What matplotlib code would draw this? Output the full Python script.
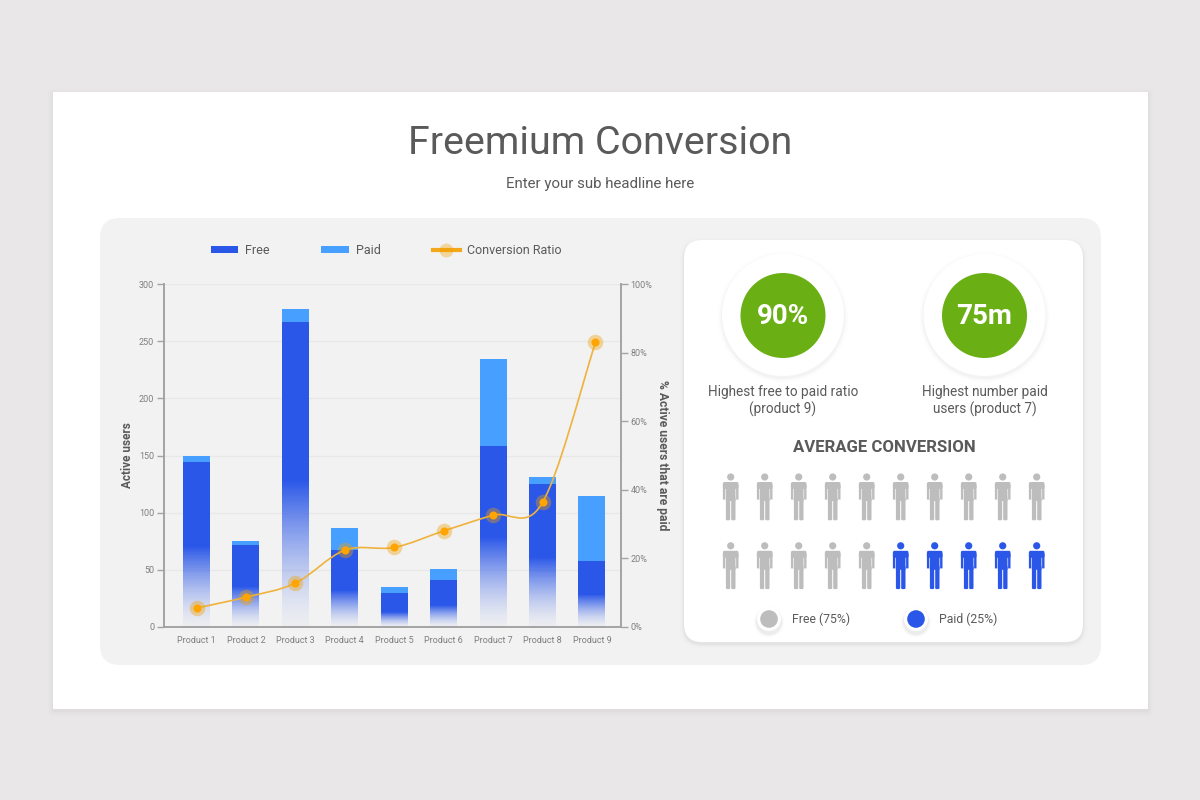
import numpy as np
import matplotlib
matplotlib.use("Agg")
import matplotlib.pyplot as plt
from matplotlib.patches import FancyBboxPatch, Circle, Patch, PathPatch, Rectangle
from matplotlib.path import Path
from matplotlib.lines import Line2D
from matplotlib.legend_handler import HandlerTuple

plt.rcParams['font.family'] = ['Roboto', 'DejaVu Sans']

# ---------- data ----------
products = ["Product 1", "Product 2", "Product 3", "Product 4", "Product 5",
            "Product 6", "Product 7", "Product 8", "Product 9"]
free_users = [144, 72, 267, 67, 30, 41, 158, 125, 58]
paid_users = [6, 3, 11, 20, 5, 10, 76, 6, 57]
fade_start = [70, 35, 128, 32, 13, 19, 78, 61, 28]
conversion = [5.5, 8.7, 12.8, 22.4, 23.2, 28.0, 32.6, 36.3, 83.0]
left_ticks = [0, 50, 100, 150, 200, 250, 300]
right_ticks = [0, 20, 40, 60, 80, 100]
free_people = 15
paid_people = 5

# ---------- colours ----------
TXT = "#5a5a5a"
TICK = "#7f7f7f"
FREE = "#2a57e8"
PAID = "#47a0ff"
ORANGE = "#ffa400"
LINE = "#efb23c"
GREEN = "#6ab014"
GREY = "#bdbdbd"
GRID = "#e8e8e8"
SPINE = "#a3a3a3"

fig = plt.figure(figsize=(12, 8), dpi=100, facecolor="#e9e7e8")
bg = fig.add_axes([0, 0, 1, 1], zorder=0)
bg.set_xlim(0, 1200)
bg.set_ylim(800, 0)
bg.axis("off")


def rbox(x0, y0, x1, y1, r, color, zorder=1):
    p = FancyBboxPatch((x0 + r, y0 + r), x1 - x0 - 2 * r, y1 - y0 - 2 * r,
                       boxstyle=f"round,pad={r},rounding_size={r}",
                       fc=color, ec="none", zorder=zorder)
    bg.add_patch(p)
    return p


def box_shadow(x0, y0, x1, y1, r, spread, dy, alpha, zorder):
    for k in range(spread, 0, -1):
        rbox(x0 - k, y0 - k + dy, x1 + k, y1 + k + dy, r + k,
             (0, 0, 0, alpha * (1 - k / (spread + 1)) ** 2), zorder)


def circ(cx, cy, r, color, zorder=5):
    bg.add_patch(Circle((cx, cy), r, fc=color, ec="none", zorder=zorder))


def circ_shadow(cx, cy, r, spread, dy, alpha, zorder=4):
    for k in range(spread, 0, -1):
        circ(cx, cy + dy, r + k, (0, 0, 0, alpha * (1 - k / (spread + 1)) ** 2), zorder)


# slide and panels
box_shadow(53, 92, 1148, 709, 1, 10, 2, 0.012, 1)
rbox(53, 92, 1148, 709, 0.5, "white", 2)
rbox(100, 218, 1101, 665, 20, "#f2f2f2", 3)
box_shadow(684, 240, 1083, 642, 18, 6, 2, 0.03, 3)
rbox(684, 240, 1083, 642, 18, "white", 4)

# headline
bg.text(600, 144, "Freemium Conversion", ha="center", va="center",
        fontsize=28.4, color=TXT, zorder=6)
bg.text(600, 184, "Enter your sub headline here", ha="center", va="center",
        fontsize=10.8, color=TXT, zorder=6)

# KPI circles
for cx, big, lbl1, lbl2 in [(783, "90%", "Highest free to paid ratio", "(product 9)"),
                            (984.5, "75m", "Highest number paid", "users (product 7)")]:
    circ_shadow(cx, 315, 61, 6, 2, 0.025)
    circ(cx, 315, 61, "white", 5)
    circ(cx, 315.5, 42.5, GREEN, 6)
    bg.text(cx, 317, big, ha="center", va="center", fontsize=20,
            fontweight="bold", color="white", zorder=7)
    bg.text(cx, 392, lbl1, ha="center", va="center", fontsize=9.8, color=TXT, zorder=7)
    bg.text(cx, 409, lbl2, ha="center", va="center", fontsize=9.8, color=TXT, zorder=7)

bg.text(884, 447, "AVERAGE CONVERSION", ha="center", va="center", fontsize=12.1,
        fontweight="bold", color=TXT, zorder=7)


# pictogram
def person(cx, head_y, color):
    z = 6
    circ(cx, head_y, 3.6, color, z)
    rbox(cx - 7.8, head_y + 5, cx + 7.8, head_y + 12, 1.6, color, z).set_snap(False)
    for rx, rw, ry, rh in [(-7.8, 2.4, 8, 14.6), (5.4, 2.4, 8, 14.6), (-4.8, 9.6, 8, 16)]:
        bg.add_patch(Rectangle((cx + rx, head_y + ry), rw, rh, fc=color, ec="none",
                               zorder=z, snap=False))
    rbox(cx - 4.8, head_y + 20, cx - 0.5, head_y + 43.3, 1.2, color, z).set_snap(False)
    rbox(cx + 0.5, head_y + 20, cx + 4.8, head_y + 43.3, 1.2, color, z).set_snap(False)


total = free_people + paid_people
for n in range(total):
    row, col = divmod(n, 10)
    cx = 730.7 + 34 * col
    person(cx, 477 + 68.8 * row, GREY if n < free_people else FREE)

for cx, col, lbl in [(769, GREY, "Free (75%)"), (916, FREE, "Paid (25%)")]:
    circ_shadow(cx, 620, 12, 5, 2, 0.05)
    circ(cx, 619, 12, "white", 5)
    circ(cx, 619, 8.8, col, 6)
    bg.text(cx + 23, 619.5, lbl, ha="left", va="center", fontsize=8.8, color=TXT, zorder=7)

# ---------- chart ----------
ax = fig.add_axes([164 / 1200, 173 / 800, 457 / 1200, 343 / 800], zorder=2)
ax.patch.set_alpha(0)
x = np.arange(len(products))
bar_w = 27 / 49.43
rgb = matplotlib.colors.to_rgb(FREE)

ax.yaxis.grid(True, color=GRID, lw=1)
ax.set_axisbelow(True)
fs = np.array(fade_start, float)
fr = np.array(free_users, float)
pd_ = np.array(paid_users, float)
ax.bar(x, fr - fs, bottom=fs, width=bar_w, color=FREE, zorder=2)
ax.bar(x, pd_, bottom=fr, width=bar_w, color=PAID, zorder=2)

# fading lower part of each free bar
f = np.linspace(1, 0, 128)[:, None]
grad = np.zeros((128, 1, 4))
grad[..., :3] = rgb
grad[..., 3] = 0.03 + 0.97 * f ** 1.5
for xi, top in zip(x, fs):
    im = ax.imshow(grad, extent=(xi - bar_w / 2, xi + bar_w / 2, 0, top), aspect="auto",
                   zorder=2, interpolation="nearest")
    im.set_clip_path(Rectangle((xi - bar_w / 2, 0), bar_w, top, transform=ax.transData))

ax.set_xlim(-32.5 / 49.43, 424.5 / 49.43)
ax.set_ylim(0, 300)
ax.set_xticks(x, products)
ax.set_yticks(left_ticks)
ax.tick_params(axis="x", length=0, labelsize=6.5, labelcolor=TICK, pad=6.5)
ax.tick_params(axis="y", length=5, width=1, color=SPINE, labelsize=6.5, labelcolor=TICK, pad=2)
for s in ("top", "right"):
    ax.spines[s].set_visible(False)
for s in ("left", "bottom"):
    ax.spines[s].set_color(SPINE)
    ax.spines[s].set_linewidth(1.4)
ax.set_ylabel("Active users", fontsize=8.5, fontweight="bold", color=TXT, labelpad=3.5)

ax2 = ax.twinx()
ax2.patch.set_alpha(0)
ax2.set_ylim(0, 100)
ax2.set_yticks(right_ticks, [f"{t}%" for t in right_ticks])
ax2.tick_params(axis="y", length=5, width=1, color=SPINE, labelsize=6.5, labelcolor=TICK, pad=2)
for s in ("top", "left", "bottom"):
    ax2.spines[s].set_visible(False)
ax2.spines["right"].set_color(SPINE)
ax2.spines["right"].set_linewidth(1.4)
ax2.set_ylabel("% Active users that are paid", fontsize=8.7, fontweight="bold",
               color=TXT, rotation=270, labelpad=12)

# smooth conversion line (cubic through the data points)
y = np.array(conversion)
lx = x.astype(float)
lx[-1] += 0.07  # the reference's last marker sits slightly right of its bar
verts = [(lx[0], y[0])]
codes = [Path.MOVETO]
for i in range(len(lx) - 1):
    m0 = (y[i + 1] - y[max(i - 1, 0)]) / (1 if i == 0 else 2)
    m1 = (y[min(i + 2, len(lx) - 1)] - y[i]) / (1 if i + 2 > len(lx) - 1 else 2)
    verts += [(lx[i] + 1 / 3, y[i] + m0 / 3), (lx[i + 1] - 1 / 3, y[i + 1] - m1 / 3), (lx[i + 1], y[i + 1])]
    codes += [Path.CURVE4] * 3
ax2.add_patch(PathPatch(Path(verts, codes), fc="none", ec=LINE, lw=1.2, zorder=4))
ax2.scatter(lx, y, s=125, color="#f0a000", alpha=0.38, linewidths=0, zorder=5)
ax2.scatter(lx, y, s=34, color=ORANGE, linewidths=0, zorder=6)

# legend
h_line = Line2D([], [], color="#f3a71a", lw=3)
h_halo = Line2D([], [], color="none", marker="o", ms=10, mfc="#f0a000", mec="none", alpha=0.35)
leg = fig.legend([Patch(fc=FREE), Patch(fc=PAID), (h_line, h_halo)],
                 ["Free", "Paid", "Conversion Ratio"],
                 handler_map={tuple: HandlerTuple(ndivide=1, pad=0)},
                 loc="center", bbox_to_anchor=(386 / 1200, 1 - 250.5 / 800), ncol=3,
                 frameon=False, fontsize=9.0, handlelength=2.2, handleheight=0.55,
                 handletextpad=0.55, columnspacing=4.15, labelcolor=TXT)
leg.set_zorder(8)

fig.savefig("out.png", dpi=100, facecolor=fig.get_facecolor())
